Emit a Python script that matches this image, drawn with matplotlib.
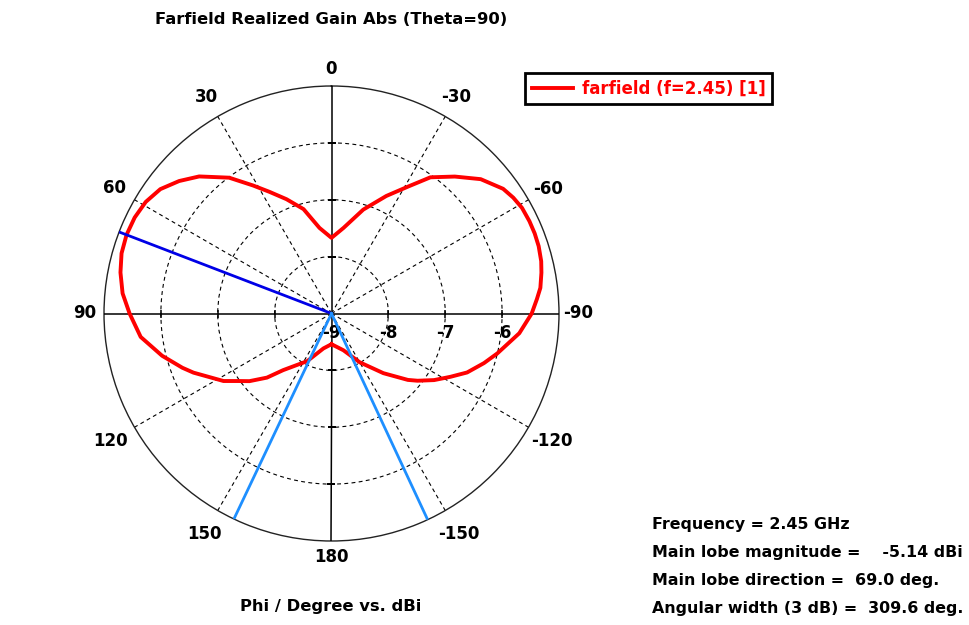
import numpy as np
import matplotlib.pyplot as plt

# farfield cut, theta = 90, realized gain in dBi vs phi (deg)
phi_deg = [-180, -162, -150, -139, -131, -128, -123, -118, -113.5, -108,
           -103.5, -96, -90, -86, -83, -79, -76, -72, -68.5, -65,
           -61, -57.5, -54, -48, -42, -36, -31, -25, -17, -8,
           0, 8, 15, 21.5, 27, 31.5, 37, 41, 44, 49,
           54, 59, 64, 69, 74, 79, 84.5, 90, 97, 104,
           110, 113.2, 122, 126, 129.5, 134.8, 139.5, 153, 167, 180]
gain_dbi = [-8.46, -8.32, -8.01, -7.61, -7.22, -7.08, -6.85, -6.63, -6.40, -6.18,
            -6.00, -5.68, -5.48, -5.38, -5.30, -5.24, -5.20, -5.17, -5.16, -5.16,
            -5.17, -5.21, -5.27, -5.47, -5.76, -6.04, -6.40, -6.72, -7.09, -7.48,
            -7.67, -7.48, -7.10, -6.84, -6.60, -6.36, -6.01, -5.82, -5.65, -5.45,
            -5.28, -5.19, -5.15, -5.14, -5.16, -5.22, -5.31, -5.45, -5.62, -5.93,
            -6.21, -6.36, -6.76, -6.98, -7.13, -7.40, -7.69, -8.06, -8.37, -8.46]

freq_ghz = 2.45
main_lobe_mag = -5.14
main_lobe_dir = 69.0
beam_edges = [154.6, -155.0]   # 3 dB points
ang_width = 309.6

r_min, r_max = -9, -5
ring_vals = [-8, -7, -6]
angle_ticks = [0, 30, 60, 90, 120, 150, 180, -150, -120, -90, -60, -30]

plt.rcParams['font.family'] = ['DejaVu Sans']
plt.rcParams['font.weight'] = 'bold'

fig = plt.figure(figsize=(9.69, 6.25), dpi=100)
ax = fig.add_axes([104 / 969, 84 / 625, 455 / 969, 455 / 625], projection='polar')
ax.set_theta_zero_location('N')
ax.set_theta_direction(1)
ax.set_rlim(r_min, r_max)

ax.set_xticks(np.radians([30, 60, 120, 150, 210, 240, 300, 330]))
ax.set_xticklabels([])
ax.set_yticks(ring_vals)
ax.set_yticklabels([])
ax.tick_params(length=0)
ax.grid(True, color='black', linestyle=(0, (3.5, 3)), linewidth=0.8)
ax.spines['polar'].set_linewidth(1.0)
ax.spines['polar'].set_color('#222222')

# solid axis cross
for a in [0, 90, 180, 270]:
    ax.plot([np.radians(a)] * 2, [r_min, r_max], color='black', lw=1.1, zorder=3)
for a in [90, 270]:
    ax.plot([np.radians(a)] * len(ring_vals), ring_vals, ls='none', marker='|',
            ms=6, mew=1.1, color='black', zorder=3)
for a in [0, 180]:
    ax.plot([np.radians(a)] * len(ring_vals), ring_vals, ls='none', marker='_',
            ms=6, mew=1.1, color='black', zorder=3)

# pattern
th = np.radians(phi_deg)
ax.plot(th, gain_dbi, color='#ff0000', lw=2.8, zorder=4, solid_joinstyle='round',
        label=f'farfield (f={freq_ghz}) [1]')

# main lobe direction and 3 dB beam edges
ax.plot([np.radians(main_lobe_dir)] * 2, [r_min, r_max], color='#0000e6', lw=2, zorder=5)
for b in beam_edges:
    ax.plot([np.radians(b)] * 2, [r_min, r_max], color='#1e8fff', lw=2, zorder=5)

# angle labels just outside the rim
px_per_db = 227.5 / (r_max - r_min)
for a in angle_ticks:
    if a in (0, 180):
        rp = 244
    elif abs(a) == 90:
        rp = 247
    elif abs(a) in (30, 60):
        rp = 250
    else:
        rp = 255
    ax.text(np.radians(a), r_min + rp / px_per_db, str(a), ha='center', va='center',
            fontsize=12, fontweight='bold', clip_on=False)

# radial labels under the right half of the horizontal axis
for v in [-9] + ring_vals:
    ax.annotate(str(v), xy=(np.radians(-90), v), xytext=(0, -20),
                textcoords='offset pixels',
                ha='center', va='center', fontsize=12, fontweight='bold')

fig.text(331 / 969, 1 - 20 / 625, 'Farfield Realized Gain Abs (Theta=90)',
         ha='center', va='center', fontsize=11.8, fontweight='bold')
fig.text(331 / 969, 1 - 607 / 625, 'Phi / Degree vs. dBi',
         ha='center', va='center', fontsize=11.8, fontweight='bold')

leg = fig.legend(loc='upper left', bbox_to_anchor=(525 / 969, 1 - 73 / 625),
                 prop={'size': 12, 'weight': 'bold'}, labelcolor='#ff0000',
                 fancybox=False, framealpha=1, edgecolor='black',
                 handlelength=2.5, handletextpad=0.5, borderpad=0.4,
                 borderaxespad=0)
leg.get_frame().set_linewidth(2)

info = [f'Frequency = {freq_ghz} GHz',
        f'Main lobe magnitude =    {main_lobe_mag:.2f} dBi',
        f'Main lobe direction =  {main_lobe_dir:.1f} deg.',
        f'Angular width (3 dB) =  {ang_width:.1f} deg.']
for i, s in enumerate(info):
    fig.text(652 / 969, 1 - (524 + 28 * i) / 625, s, ha='left', va='center',
             fontsize=11.4, fontweight='bold')

fig.savefig('out.png', dpi=100)
